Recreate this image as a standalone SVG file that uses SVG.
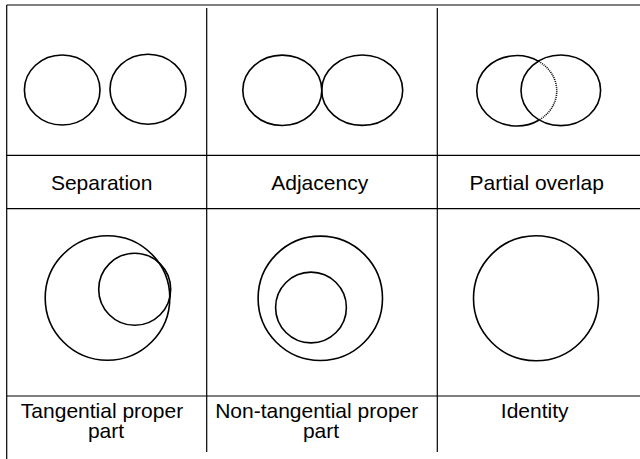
<svg xmlns="http://www.w3.org/2000/svg" width="640" height="459" viewBox="0 0 640 459">
<style>
.grid{stroke:#000;stroke-width:1.2;fill:none}
.sh{stroke:#000;stroke-width:1.6;fill:none}
.dot{stroke:#000;stroke-width:1.6;fill:none;stroke-dasharray:1 1}
.lbl{font-family:"Liberation Sans",Arial,sans-serif;font-size:21px;fill:#000;text-anchor:middle}
</style>
<rect width="640" height="459" fill="#fff"/>
<g id="grid">
<line class="grid" x1="6.7" y1="5" x2="640" y2="5"/>
<line class="grid" x1="6.7" y1="5" x2="6.7" y2="459"/>
<line class="grid" x1="206.7" y1="8" x2="206.7" y2="452"/>
<line class="grid" x1="437.3" y1="8" x2="437.3" y2="452"/>
<line class="grid" x1="6.7" y1="155.3" x2="640" y2="155.3"/>
<line class="grid" x1="6.7" y1="208.7" x2="640" y2="208.7"/>
<line class="grid" x1="6.7" y1="396" x2="640" y2="396"/>
</g>
<g id="separation">
<ellipse class="sh" cx="62.2" cy="90" rx="37.8" ry="35"/>
<ellipse class="sh" cx="148" cy="89.2" rx="38" ry="35"/>
<text class="lbl" x="101.7" y="190">Separation</text>
</g>
<g id="adjacency">
<ellipse class="sh" cx="282.3" cy="90.3" rx="39.5" ry="35.2"/>
<ellipse class="sh" cx="362.2" cy="90.2" rx="40.5" ry="35.2"/>
<text class="lbl" x="319.7" y="190">Adjacency</text>
</g>
<g id="partial-overlap">
<path class="sh" d="M538.75,61.4 A40,35.2 0 1 0 538.75,120.2"/>
<path class="dot" d="M538.75,61.4 A40,35.2 0 0 1 538.75,120.2"/>
<ellipse class="sh" cx="560.8" cy="90.3" rx="39.8" ry="35.3"/>
<text class="lbl" x="536.7" y="190">Partial overlap</text>
</g>
<g id="tangential-proper-part">
<circle class="sh" cx="107.5" cy="298" r="62.3"/>
<circle class="sh" cx="134.7" cy="289.3" r="36"/>
<text class="lbl" x="102" y="418.3">Tangential proper</text>
<text class="lbl" x="106" y="438.3">part</text>
</g>
<g id="non-tangential-proper-part">
<circle class="sh" cx="320.3" cy="298.3" r="62.2"/>
<circle class="sh" cx="311" cy="307.5" r="35.4"/>
<text class="lbl" x="316.7" y="418.3">Non-tangential proper</text>
<text class="lbl" x="321" y="438.3">part</text>
</g>
<g id="identity">
<circle class="sh" cx="536" cy="298.3" r="62.5"/>
<text class="lbl" x="534.7" y="418.3">Identity</text>
</g>
</svg>
